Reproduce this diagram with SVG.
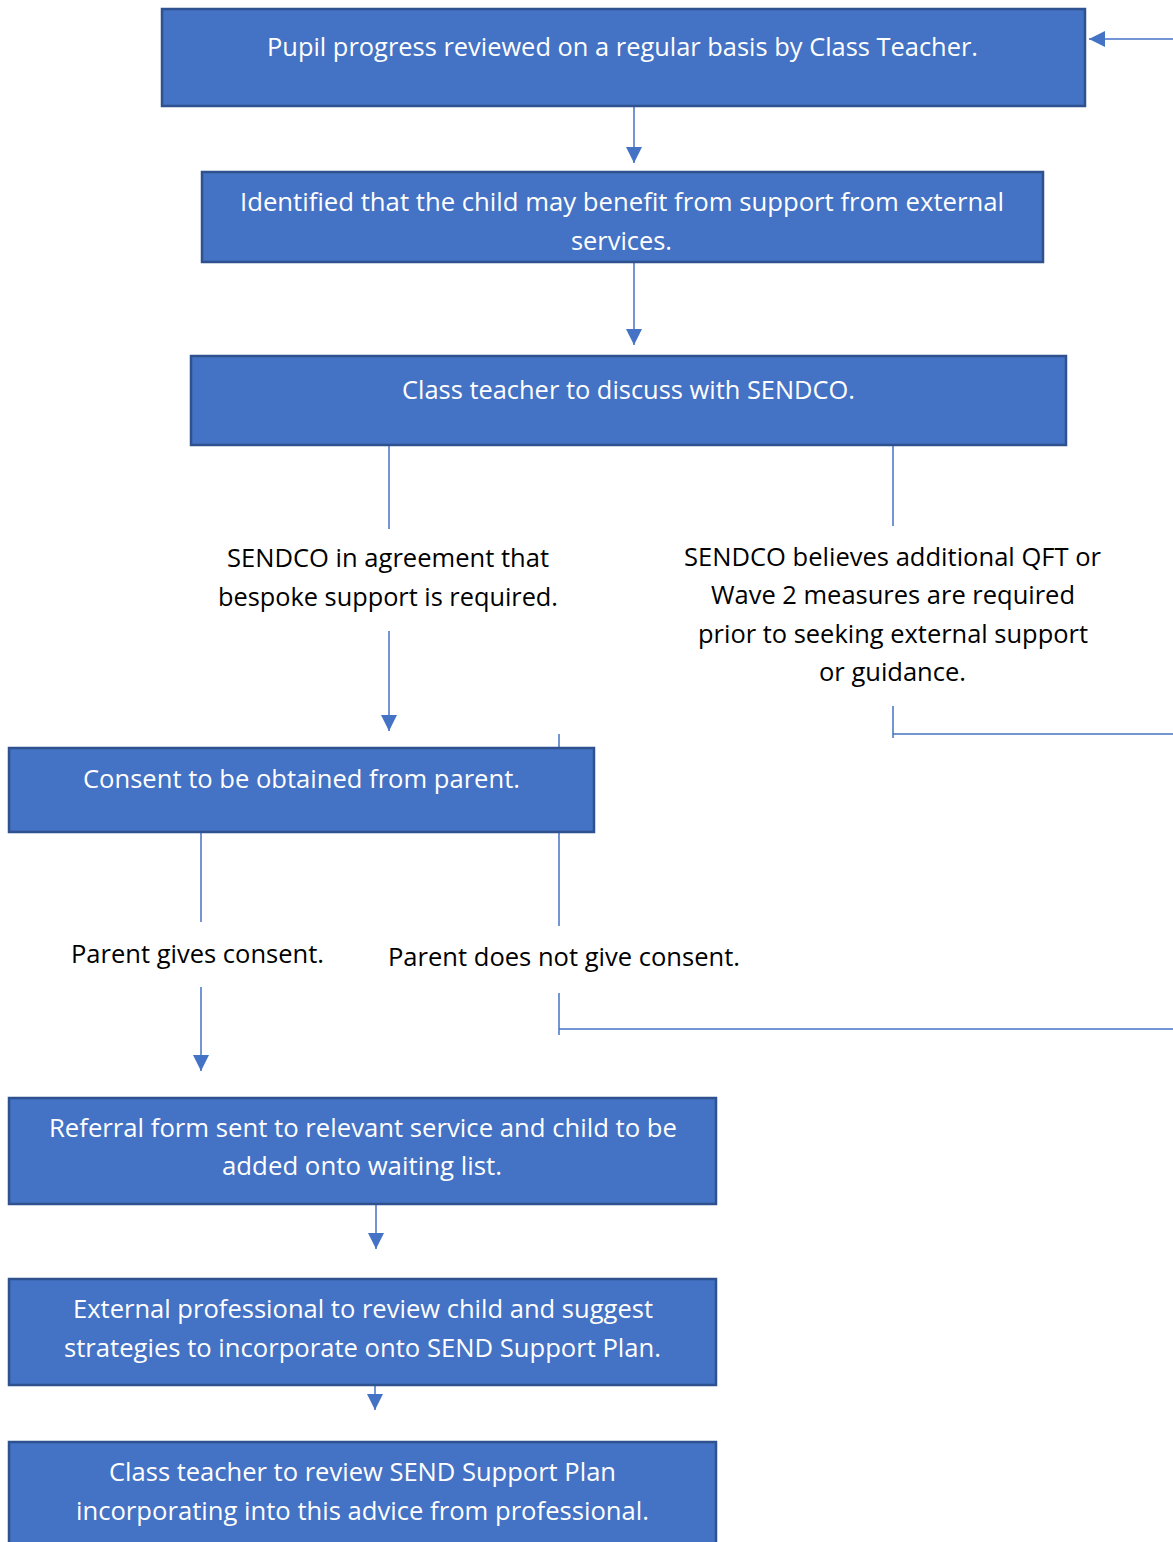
<svg xmlns="http://www.w3.org/2000/svg" width="1173" height="1542" viewBox="0 0 1173 1542">
<style>
.box{fill:#4472C4;stroke:#2F528F;stroke-width:2.5}
.bt{font-family:"Open Sans","Liberation Sans",sans-serif;font-size:25px;fill:#FFFFFF;text-anchor:middle}
.lt{font-family:"Open Sans","Liberation Sans",sans-serif;font-size:25px;fill:#000000;text-anchor:middle}
.c{stroke:#4472C4;stroke-width:1.5;fill:none}
</style>
<defs>
<marker id="ahb" viewBox="0 0 10 10" refX="10" refY="5" markerWidth="16" markerHeight="16" markerUnits="userSpaceOnUse" orient="auto">
<path d="M0,0 L10,5 L0,10 Z" fill="#4472C4"/>
</marker>
</defs>
<rect width="1173" height="1542" fill="#FFFFFF"/>
<g id="connectors">
<line class="c" x1="1173" y1="39" x2="1089" y2="39" marker-end="url(#ahb)"/>
<line class="c" x1="634" y1="107" x2="634" y2="163" marker-end="url(#ahb)"/>
<line class="c" x1="634" y1="263" x2="634" y2="345" marker-end="url(#ahb)"/>
<line class="c" x1="389" y1="446" x2="389" y2="529"/>
<line class="c" x1="389" y1="631" x2="389" y2="731" marker-end="url(#ahb)"/>
<line class="c" x1="893" y1="446" x2="893" y2="526"/>
<line class="c" x1="893" y1="706" x2="893" y2="738"/>
<line class="c" x1="893" y1="734" x2="1173" y2="734"/>
<line class="c" x1="559" y1="734" x2="559" y2="748"/>
<line class="c" x1="559" y1="833" x2="559" y2="926"/>
<line class="c" x1="559" y1="993" x2="559" y2="1035"/>
<line class="c" x1="559" y1="1029" x2="1173" y2="1029"/>
<line class="c" x1="201" y1="833" x2="201" y2="922"/>
<line class="c" x1="201" y1="987" x2="201" y2="1071" marker-end="url(#ahb)"/>
<line class="c" x1="376" y1="1205" x2="376" y2="1249" marker-end="url(#ahb)"/>
<line class="c" x1="375" y1="1386" x2="375" y2="1410" marker-end="url(#ahb)"/>
</g>
<g id="n1"><rect class="box" x="162" y="9" width="923" height="97"/>
<text class="bt" x="622.5" y="56" textLength="711" lengthAdjust="spacingAndGlyphs">Pupil progress reviewed on a regular basis by Class Teacher.</text></g>
<g id="n2"><rect class="box" x="202" y="172" width="841" height="90"/>
<text class="bt" x="622" y="211" textLength="764" lengthAdjust="spacingAndGlyphs">Identified that the child may benefit from support from external</text>
<text class="bt" x="621.5" y="250" textLength="101" lengthAdjust="spacingAndGlyphs">services.</text></g>
<g id="n3"><rect class="box" x="191" y="356" width="875" height="89"/>
<text class="bt" x="628.5" y="399" textLength="453" lengthAdjust="spacingAndGlyphs">Class teacher to discuss with SENDCO.</text></g>
<g id="l1">
<text class="lt" x="388" y="567" textLength="322" lengthAdjust="spacingAndGlyphs">SENDCO in agreement that</text>
<text class="lt" x="388" y="606" textLength="340" lengthAdjust="spacingAndGlyphs">bespoke support is required.</text></g>
<g id="l2">
<text class="lt" x="892.5" y="566" textLength="417" lengthAdjust="spacingAndGlyphs">SENDCO believes additional QFT or</text>
<text class="lt" x="893" y="604" textLength="364" lengthAdjust="spacingAndGlyphs">Wave 2 measures are required</text>
<text class="lt" x="893" y="643" textLength="390" lengthAdjust="spacingAndGlyphs">prior to seeking external support</text>
<text class="lt" x="892.5" y="681" textLength="147" lengthAdjust="spacingAndGlyphs">or guidance.</text></g>
<g id="n4"><rect class="box" x="9" y="748" width="585" height="84"/>
<text class="bt" x="301.5" y="788" textLength="437" lengthAdjust="spacingAndGlyphs">Consent to be obtained from parent.</text></g>
<g id="l3"><text class="lt" x="197.5" y="963" textLength="253" lengthAdjust="spacingAndGlyphs">Parent gives consent.</text></g>
<g id="l4"><text class="lt" x="564" y="966" textLength="352" lengthAdjust="spacingAndGlyphs">Parent does not give consent.</text></g>
<g id="n5"><rect class="box" x="9" y="1098" width="707" height="106"/>
<text class="bt" x="363" y="1137" textLength="628" lengthAdjust="spacingAndGlyphs">Referral form sent to relevant service and child to be</text>
<text class="bt" x="362" y="1175" textLength="280" lengthAdjust="spacingAndGlyphs">added onto waiting list.</text></g>
<g id="n6"><rect class="box" x="9" y="1279" width="707" height="106"/>
<text class="bt" x="363" y="1318" textLength="580" lengthAdjust="spacingAndGlyphs">External professional to review child and suggest</text>
<text class="bt" x="362.5" y="1357" textLength="597" lengthAdjust="spacingAndGlyphs">strategies to incorporate onto SEND Support Plan.</text></g>
<g id="n7"><rect class="box" x="9" y="1442" width="707" height="106"/>
<text class="bt" x="362.5" y="1481" textLength="507" lengthAdjust="spacingAndGlyphs">Class teacher to review SEND Support Plan</text>
<text class="bt" x="362.5" y="1520" textLength="573" lengthAdjust="spacingAndGlyphs">incorporating into this advice from professional.</text></g>
</svg>
